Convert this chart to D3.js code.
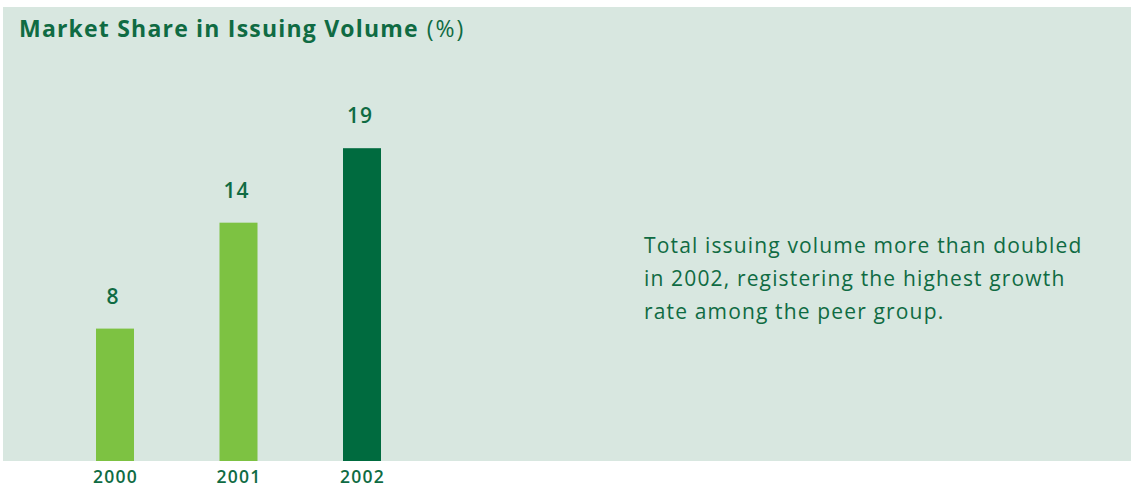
<!DOCTYPE html>
<html><head><meta charset="utf-8">
<script src="https://cdn.jsdelivr.net/npm/d3@7"></script>
<style>body{margin:0;background:#fff;}svg{display:block;font-family:"Open Sans",sans-serif;}</style>
</head><body><svg id="c" width="1131" height="488"></svg>
<script>
const years = ["2000", "2001", "2002"];
const shares = [8, 14.4, 18.9];
const valueLabels = ["8", "14", "19"];
const barColors = ["#7dc242", "#7dc242", "#006b3f"];
const titleBold = "Market Share in Issuing Volume";
const titleUnit = "(%)";
const noteLines = ["Total issuing volume more than doubled", "in 2002, registering the highest growth", "rate among the peer group."];

const svg = d3.select("#c");
const textColor = "#0f6b43";
svg.append("rect").attr("x", 3).attr("y", 7).attr("width", 1128).attr("height", 454).attr("fill", "#d8e7e0");

const x = d3.scalePoint().domain(years).range([115, 362]);
const y = d3.scaleLinear().domain([0, 19]).range([461, 461 - 19 * 16.55]);
const bw = 38;

svg.selectAll("rect.bar").data(shares).join("rect").attr("class", "bar")
  .attr("x", (d, i) => x(years[i]) - bw / 2).attr("width", bw)
  .attr("y", d => y(d)).attr("height", d => y(0) - y(d))
  .attr("fill", (d, i) => barColors[i]);

svg.selectAll("text.val").data(shares).join("text").attr("class", "val")
  .attr("x", (d, i) => x(years[i]) - 2).attr("y", d => y(d) - 25)
  .attr("text-anchor", "middle").attr("font-size", 21).attr("font-weight", 600)
  .attr("letter-spacing", 1).attr("fill", textColor).text((d, i) => valueLabels[i]);

const xAxis = d3.axisBottom(x).tickSize(0).tickPadding(0);
const ax = svg.append("g").attr("transform", "translate(0,461)").call(xAxis);
ax.select(".domain").remove();
ax.selectAll("text").attr("dy", null).attr("y", 22).attr("font-size", 17.5).attr("font-weight", 600)
  .attr("font-family", "Open Sans").attr("fill", textColor).attr("letter-spacing", 1.2);

const t = svg.append("text").attr("x", 19).attr("y", 37).attr("font-size", 23).attr("fill", textColor);
t.append("tspan").attr("font-weight", 700).attr("letter-spacing", 1.2).text(titleBold);
t.append("tspan").attr("font-weight", 400).attr("font-size", 23).attr("letter-spacing", 2).text(" " + titleUnit);

svg.selectAll("text.note").data(noteLines).join("text").attr("class", "note")
  .attr("x", 644).attr("y", (d, i) => 253 + i * 33).attr("font-size", 21)
  .attr("letter-spacing", 1.15).attr("fill", textColor).text(d => d);
</script></body></html>
